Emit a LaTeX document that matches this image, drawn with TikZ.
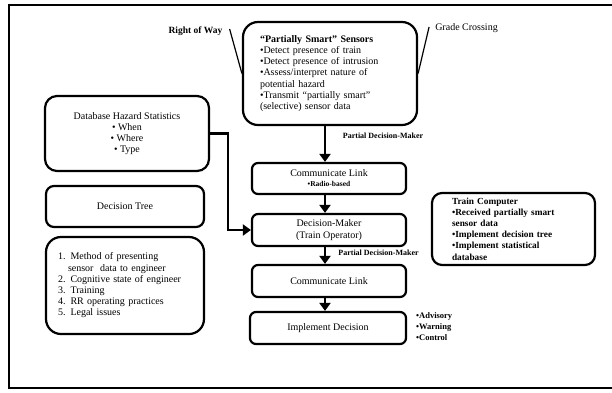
\documentclass[tikz,border=0pt]{standalone}
\usepackage{fontspec}
\setmainfont{Liberation Serif}
\usetikzlibrary{arrows.meta}
\begin{document}
\begin{tikzpicture}[x=1pt,y=-1pt,
  box/.style={draw, line width=2.2pt, rounded corners=6pt, align=center,
    font=\fontsize{10}{11}\selectfont, inner sep=0pt},
  lbl/.style={font=\bfseries\fontsize{8}{10}\selectfont, inner sep=0pt},
  arr/.style={line width=2.2pt, -{Triangle[width=11pt,length=8pt]}},
  leader/.style={line width=1.2pt}]
\useasboundingbox (0,0) rectangle (612,392);
\draw[line width=1.5pt] (620,5) -- (9,5) -- (9,388) -- (620,388);

% sensors
\node[box, rounded corners=15pt, minimum width=174pt, minimum height=103pt,
  text width=140pt, align=left, font=\fontsize{10}{11.3}\selectfont] (sens) at (330,73.5)
  {{\bfseries ``Partially Smart'' Sensors}\\
   •Detect presence of train\\
   •Detect presence of intrusion\\
   •Assess/interpret nature of\\
   potential hazard\\
   •Transmit ``partially smart''\\
   (selective) sensor data};

\node[lbl, font=\bfseries\fontsize{9.5}{11}\selectfont] (row) at (195.5,31) {Right of Way};
\node[inner sep=0pt, font=\fontsize{10}{11}\selectfont] (gc) at (466.5,28) {Grade Crossing};
\draw[leader] ([shift={(7,-2)}]row.east) -- (sens.west);
\draw[leader] ([shift={(-6,-1)}]gc.west) -- (sens.east);

% main flow
\node[box, minimum width=154pt, minimum height=31pt, font=\fontsize{10}{10}\selectfont] (cl1) at (329,178.5)
  {Communicate Link\\{\bfseries\fontsize{7.5}{9}\selectfont •Radio-based}};
\node[box, minimum width=154pt, minimum height=32pt, font=\fontsize{10}{12}\selectfont] (dm) at (329,230)
  {Decision-Maker\\(Train Operator)};
\node[box, minimum width=154pt, minimum height=32pt] (cl2) at (329,281) {Communicate Link};
\node[box, minimum width=156pt, minimum height=32pt] (imp) at (328,328) {Implement Decision};

\node[lbl] (pdm1) at (383,136) {Partial Decision-Maker};
\node[lbl] (pdm2) at (378.5,253) {Partial Decision-Maker};

\node[lbl, anchor=west, align=left, font=\bfseries\fontsize{8.5}{11}\selectfont] (adv) at (416,327)
  {•Advisory\\•Warning\\•Control};

\coordinate (ax) at (325,0);
\draw[arr] (sens.south -| ax) -- (cl1.north -| ax);
\draw[arr] (cl1.south -| ax) -- (dm.north -| ax);
\draw[arr] (dm.south -| ax) -- (cl2.north -| ax);
\draw[arr] (cl2.south -| ax) -- (imp.north -| ax);

% left column
\node[box, rounded corners=12pt, minimum width=164pt, minimum height=75pt,
  font=\fontsize{10}{11}\selectfont] (db) at (127,133.5)
  {Database Hazard Statistics\\• When\\• Where\\• Type};
\node[box, rounded corners=8pt, minimum width=158pt, minimum height=41pt] (dt) at (125,206.5) {Decision Tree};
\node[box, rounded corners=15pt, minimum width=158pt, minimum height=97pt,
  text width=134pt, align=left, font=\fontsize{10}{11.2}\selectfont] (iss) at (125,285.5)
  {1. Method of presenting\\
   \hspace*{10pt}sensor\ \ data to engineer\\
   2. Cognitive state of engineer\\
   3. Training\\
   4. RR operating practices\\
   5. Legal issues};

\coordinate (j) at (228,230);
\draw[arr] (db.east) -| (j) -- (dm.west);

% train computer
\node[box, rounded corners=10pt, minimum width=163pt, minimum height=72pt,
  text width=123pt, align=left, font=\bfseries\fontsize{9.3}{11.2}\selectfont] (tc) at (513.5,229)
  {Train Computer\\
   •Received partially smart\\
   sensor data\\
   •Implement decision tree\\
   •Implement statistical\\
   database};
\end{tikzpicture}
\end{document}
